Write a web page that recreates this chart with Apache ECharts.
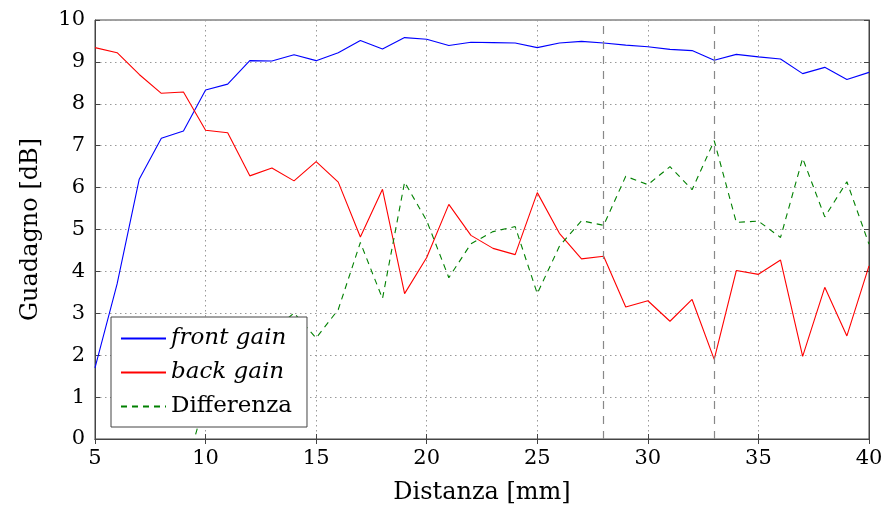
<!DOCTYPE html>
<html><head><meta charset="utf-8">
<script src="https://cdn.jsdelivr.net/npm/echarts@6/dist/echarts.min.js"></script>
<style>html,body{margin:0;padding:0;background:#fff}#c{width:883px;height:506px}</style>
</head><body><div id="c"></div>
<script>
const distanza = [5,6,7,8,9,10,11,12,13,14,15,16,17,18,19,20,21,22,23,24,25,26,27,28,29,30,31,32,33,34,35,36,37,38,39,40];
const frontGain = [1.7,3.7,6.2,7.18,7.35,8.33,8.47,9.03,9.02,9.17,9.03,9.22,9.51,9.31,9.58,9.54,9.39,9.47,9.46,9.45,9.34,9.45,9.49,9.45,9.40,9.36,9.30,9.27,9.04,9.18,9.12,9.07,8.72,8.87,8.58,8.75];
const backGain = [9.34,9.22,8.70,8.25,8.28,7.37,7.31,6.28,6.47,6.16,6.62,6.13,4.82,5.96,3.47,4.33,5.60,4.86,4.55,4.40,5.88,4.91,4.30,4.36,3.15,3.30,2.81,3.33,1.90,4.02,3.93,4.27,1.97,3.62,2.46,4.13];
const differenza = [-7.64,-5.52,-2.5,-1.07,-0.93,0.96,1.16,2.75,2.55,3.01,2.41,3.09,4.69,3.35,6.13,5.21,3.85,4.66,4.95,5.07,3.47,4.60,5.21,5.10,6.27,6.07,6.50,5.95,7.12,5.17,5.20,4.81,6.70,5.30,6.14,4.65];
const markers = [28, 33];
const seriesNames = ['front gain','back gain','Differenza'];

const font = 'DejaVu Serif';
const chart = echarts.init(document.getElementById('c'), null, {renderer:'canvas'});
const pair = a => distanza.map((x,i)=>[x,a[i]]);
const gridLine = {show:true, lineStyle:{color:'#999', type:[1.5,3.5], width:1}};
const hiddenSym = {color:'rgba(0,0,0,0)', borderWidth:0, opacity:0};
chart.setOption({
  animation:false,
  textStyle:{fontFamily:font},
  grid:{left:95, right:14, top:20, bottom:67, containLabel:false, outerBoundsMode:'none',
        show:true, borderColor:'#444', borderWidth:1, backgroundColor:'transparent'},
  legend:{
    left:111, top:317, orient:'vertical', itemWidth:45, itemHeight:14, itemGap:11,
    backgroundColor:'#fff', borderColor:'#444', borderWidth:1, padding:[10,15,9,9],
    itemStyle:hiddenSym,
    data:[
      {name:'front gain', textStyle:{fontStyle:'italic'}, itemStyle:hiddenSym},
      {name:'back gain', textStyle:{fontStyle:'italic'}, itemStyle:hiddenSym},
      {name:'Differenza', itemStyle:hiddenSym}
    ],
    textStyle:{fontFamily:font, fontSize:23, lineHeight:23, color:'#000'}
  },
  xAxis:[{
    type:'value', min:5, max:40, interval:5, position:'bottom',
    name:'Distanza [mm]', nameLocation:'middle', nameGap:42,
    nameTextStyle:{fontFamily:font, fontSize:24, color:'#000'},
    axisLine:{show:true, lineStyle:{color:'#444'}},
    axisTick:{show:true, inside:true, length:5, lineStyle:{color:'#444'}},
    axisLabel:{fontFamily:font, fontSize:21, color:'#000', margin:9},
    splitLine:gridLine
  },{
    type:'value', min:5, max:40, interval:5, position:'top',
    axisLine:{show:true, lineStyle:{color:'#444'}},
    axisTick:{show:true, inside:true, length:5, lineStyle:{color:'#444'}},
    axisLabel:{show:false}, splitLine:{show:false}
  }],
  yAxis:[{
    type:'value', min:0, max:10, interval:1, position:'left',
    name:'Guadagno [dB]', nameLocation:'middle', nameGap:52, nameRotate:90,
    nameTextStyle:{fontFamily:font, fontSize:24, color:'#000'},
    axisLine:{show:true, lineStyle:{color:'#444'}},
    axisTick:{show:true, inside:true, length:5, lineStyle:{color:'#444'}},
    axisLabel:{fontFamily:font, fontSize:21, color:'#000', margin:10},
    splitLine:gridLine
  },{
    type:'value', min:0, max:10, interval:1, position:'right',
    axisLine:{show:true, lineStyle:{color:'#444'}},
    axisTick:{show:true, inside:true, length:5, lineStyle:{color:'#444'}},
    axisLabel:{show:false}, splitLine:{show:false}
  }],
  series:[
    {name:seriesNames[0], type:'line', data:pair(frontGain), showSymbol:false, symbol:'none', clip:true,
     color:'#0000ff', lineStyle:{color:'#0000ff', width:1.1}, z:3},
    {name:seriesNames[1], type:'line', data:pair(backGain), showSymbol:false, symbol:'none', clip:true,
     color:'#ff0000', lineStyle:{color:'#ff0000', width:1.1}, z:3},
    {name:seriesNames[2], type:'line', data:pair(differenza), showSymbol:false, symbol:'none', clip:true,
     color:'#008000', lineStyle:{color:'#008000', width:1.1, type:[6,5]}, z:3,
     markLine:{silent:true, symbol:'none', label:{show:false},
       lineStyle:{color:'#888', type:[8,7], width:1.2},
       data: markers.map(m=>({xAxis:m}))}
    }
  ]
});
</script></body></html>
